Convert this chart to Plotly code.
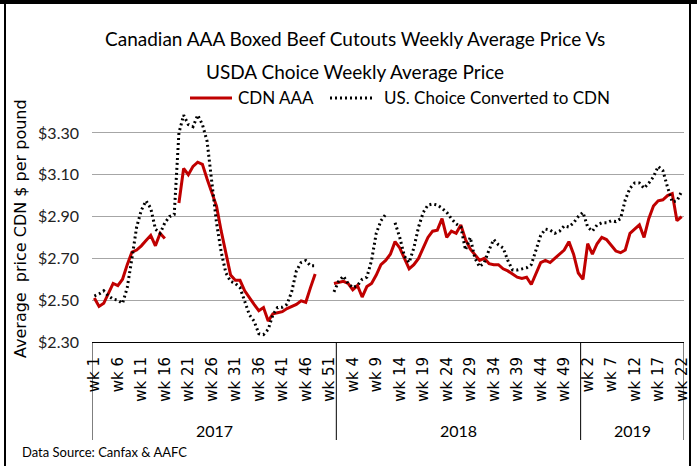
import plotly.graph_objects as go

# ---------------- data ----------------
years = ["2017", "2018", "2019"]
weeks_per_year = [52, 52, 22]
week_labels = [f"wk {w}" for n in weeks_per_year for w in range(1, n + 1)]

cdn_aaa = [
    # 2017
    2.51, 2.47, 2.485, 2.53, 2.58, 2.57, 2.60, 2.67, 2.73, 2.74,
    2.76, 2.785, 2.81, 2.76, 2.82, 2.795, None, None, 2.965, 3.13,
    3.10, 3.14, 3.16, 3.15, 3.08, 3.01, 2.95, 2.83, 2.72, 2.62,
    2.595, 2.595, 2.545, 2.51, 2.48, 2.45, 2.465, 2.40, 2.435, 2.44,
    2.445, 2.46, 2.47, 2.48, 2.497, 2.49, 2.56, 2.625, None, None,
    None, 2.58,
    # 2018
    2.585, 2.59, 2.58, 2.55, 2.57, 2.515, 2.565, 2.58, 2.62, 2.67,
    2.69, 2.72, 2.78, 2.75, 2.70, 2.65, 2.67, 2.70, 2.75, 2.80,
    2.83, 2.835, 2.89, 2.80, 2.83, 2.82, 2.86, 2.79, 2.745, 2.72,
    2.69, 2.70, 2.675, 2.67, 2.67, 2.65, 2.64, 2.625, 2.61, 2.604,
    2.61, 2.575, 2.63, 2.68, 2.69, 2.68, 2.70, 2.72, 2.74, 2.78,
    2.72, 2.63,
    # 2019
    2.60, 2.77, 2.72, 2.77, 2.80, 2.79, 2.765, 2.735, 2.727, 2.74,
    2.82, 2.838, 2.86, 2.80, 2.89, 2.95, 2.975, 2.98, 3.00, 3.01,
    2.88, 2.90,
]

us_choice = [
    # 2017
    2.52, 2.53, 2.545, 2.52, 2.505, 2.50, 2.485, 2.56, 2.70, 2.85,
    2.93, 2.975, 2.94, 2.84, 2.82, 2.87, 2.90, 2.91, 3.30, 3.385,
    3.34, 3.33, 3.385, 3.34, 3.26, 3.05, 2.87, 2.73, 2.63, 2.59,
    2.58, 2.56, 2.50, 2.43, 2.40, 2.34, 2.335, 2.36, 2.43, 2.465,
    2.466, 2.48, 2.54, 2.64, 2.68, 2.69, 2.665, 2.665, None, None,
    None, 2.54,
    # 2018
    2.59, 2.615, 2.58, 2.56, 2.57, 2.60, 2.61, 2.69, 2.82, 2.88,
    2.91, None, 2.87, 2.80, 2.71, 2.68, 2.75, 2.85, 2.92, 2.955,
    2.96, 2.955, 2.94, 2.92, 2.89, 2.865, 2.85, 2.74, 2.80, 2.70,
    2.66, 2.68, 2.74, 2.79, 2.765, 2.75, 2.69, 2.645, 2.644, 2.65,
    2.655, 2.67, 2.74, 2.81, 2.84, 2.835, 2.82, 2.83, 2.855, 2.85,
    2.87, 2.90,
    # 2019
    2.92, 2.85, 2.83, 2.86, 2.87, 2.87, 2.88, 2.876, 2.89, 2.98,
    3.035, 3.06, 3.06, 3.035, 3.06, 3.09, 3.14, 3.12, 3.04, 2.97,
    2.975, 3.02,
]

y_tick_values = [2.30, 2.50, 2.70, 2.90, 3.10, 3.30]
y_tick_labels = ["$2.30", "$2.50", "$2.70", "$2.90", "$3.10", "$3.30"]

series_names = ["CDN AAA", "US. Choice Converted to CDN"]
series_colors = ["#C00000", "black"]
series_dash = ["solid", "2px,3px"]
title_lines = ["Canadian AAA Boxed Beef Cutouts Weekly Average Price Vs",
               "USDA Choice Weekly Average Price"]
y_title = "Average  price CDN $ per pound"
source_text = "Data Source: Canfax & AAFC"

# ---------------- figure ----------------
NARROW = "Lato, Liberation Sans, sans-serif"
WIDE = "DejaVu Sans, Verdana, sans-serif"

x_idx = list(range(len(week_labels)))

fig = go.Figure()
for name, vals, col, dash in zip(series_names, [cdn_aaa, us_choice],
                                 series_colors, series_dash):
    fig.add_trace(go.Scatter(
        x=x_idx, y=vals, mode="lines", name=name, showlegend=False,
        line=dict(color=col, width=3, dash=dash), connectgaps=False))

L, R, T, B, W, H = 92, 13, 112, 124, 697, 466
PW, PH = W - L - R, H - T - B


def px(xp):
    return (xp - L) / PW


def py(yp):
    return (H - B - yp) / PH


fig.update_layout(
    width=W, height=H,
    margin=dict(l=L, r=R, t=T, b=B, autoexpand=False),
    plot_bgcolor="white", paper_bgcolor="white",
    showlegend=False,
    xaxis=dict(range=[-0.5, len(week_labels) - 0.5], automargin=False,
               tickmode="array", tickvals=x_idx[::5],
               ticktext=week_labels[::5], tickangle=-90,
               tickfont=dict(family=WIDE, size=15, color="black"),
               showgrid=False, zeroline=False,
               showline=True, linecolor="black", linewidth=1, ticks="",
               ticklabelstandoff=8),
    yaxis=dict(range=[2.30, 3.40], tickmode="array", automargin=False,
               tickvals=y_tick_values, ticktext=y_tick_labels,
               tickfont=dict(family=NARROW, size=16, color="#222222"),
               showgrid=True, gridcolor="#A6A6A6", gridwidth=1,
               zeroline=False, showline=False, ticks="",
               ticklabelstandoff=12),
)

annotations = []
shapes = []
for i, line in enumerate(title_lines):
    annotations.append(dict(
        text=line, x=px(355), y=py(38 + 34 * i), xref="paper", yref="paper",
        xanchor="center", yanchor="middle", showarrow=False,
        font=dict(family=NARROW, size=19, color="black")))

# manual legend
legend_items = [(190, 232, 236), (330, 375, 382)]
for (x0, x1, xt), name, col, dash in zip(legend_items, series_names,
                                         series_colors, series_dash):
    shapes.append(dict(type="line", xref="paper", yref="paper",
                       x0=px(x0), x1=px(x1), y0=py(98), y1=py(98),
                       line=dict(color=col, width=3, dash=dash)))
    annotations.append(dict(
        text=name, x=px(xt), y=py(98), xref="paper", yref="paper",
        xanchor="left", yanchor="middle", showarrow=False,
        font=dict(family=NARROW, size=17, color="black")))

annotations.append(dict(
    text=y_title, x=px(20), y=py(229), xref="paper", yref="paper",
    xanchor="center", yanchor="middle", textangle=-90, showarrow=False,
    font=dict(family=WIDE, size=16, color="black")))

annotations.append(dict(
    text=source_text, x=px(20), y=py(452), xref="paper", yref="paper",
    xanchor="left", yanchor="middle", showarrow=False,
    font=dict(family=NARROW, size=13, color="black")))

start = 0
bounds = [-0.5]
for yr, n in zip(years, weeks_per_year):
    mid = start + (n - 1) / 2
    annotations.append(dict(
        text=yr, x=mid, y=py(430), xref="x", yref="paper",
        xanchor="center", yanchor="middle", showarrow=False,
        font=dict(family=NARROW, size=16, color="black")))
    start += n
    bounds.append(start - 0.5)

for b in bounds:
    shapes.append(dict(type="line", xref="x", yref="paper",
                       x0=b, x1=b, y0=0, y1=py(440),
                       line=dict(color="black", width=1)))

# outer chart frame
shapes.append(dict(type="rect", xref="paper", yref="paper",
                   x0=px(5), x1=px(690), y0=py(3), y1=py(475),
                   line=dict(color="black", width=2)))
shapes.append(dict(type="rect", xref="paper", yref="paper",
                   x0=px(0), x1=px(697), y0=py(0), y1=py(4),
                   line=dict(width=0), fillcolor="black"))

fig.update_layout(annotations=annotations, shapes=shapes)

fig.write_html("out.html",
               config={"displayModeBar": False},
               post_script="document.body.style.margin='0px';"
                           "document.body.style.padding='0px';")
